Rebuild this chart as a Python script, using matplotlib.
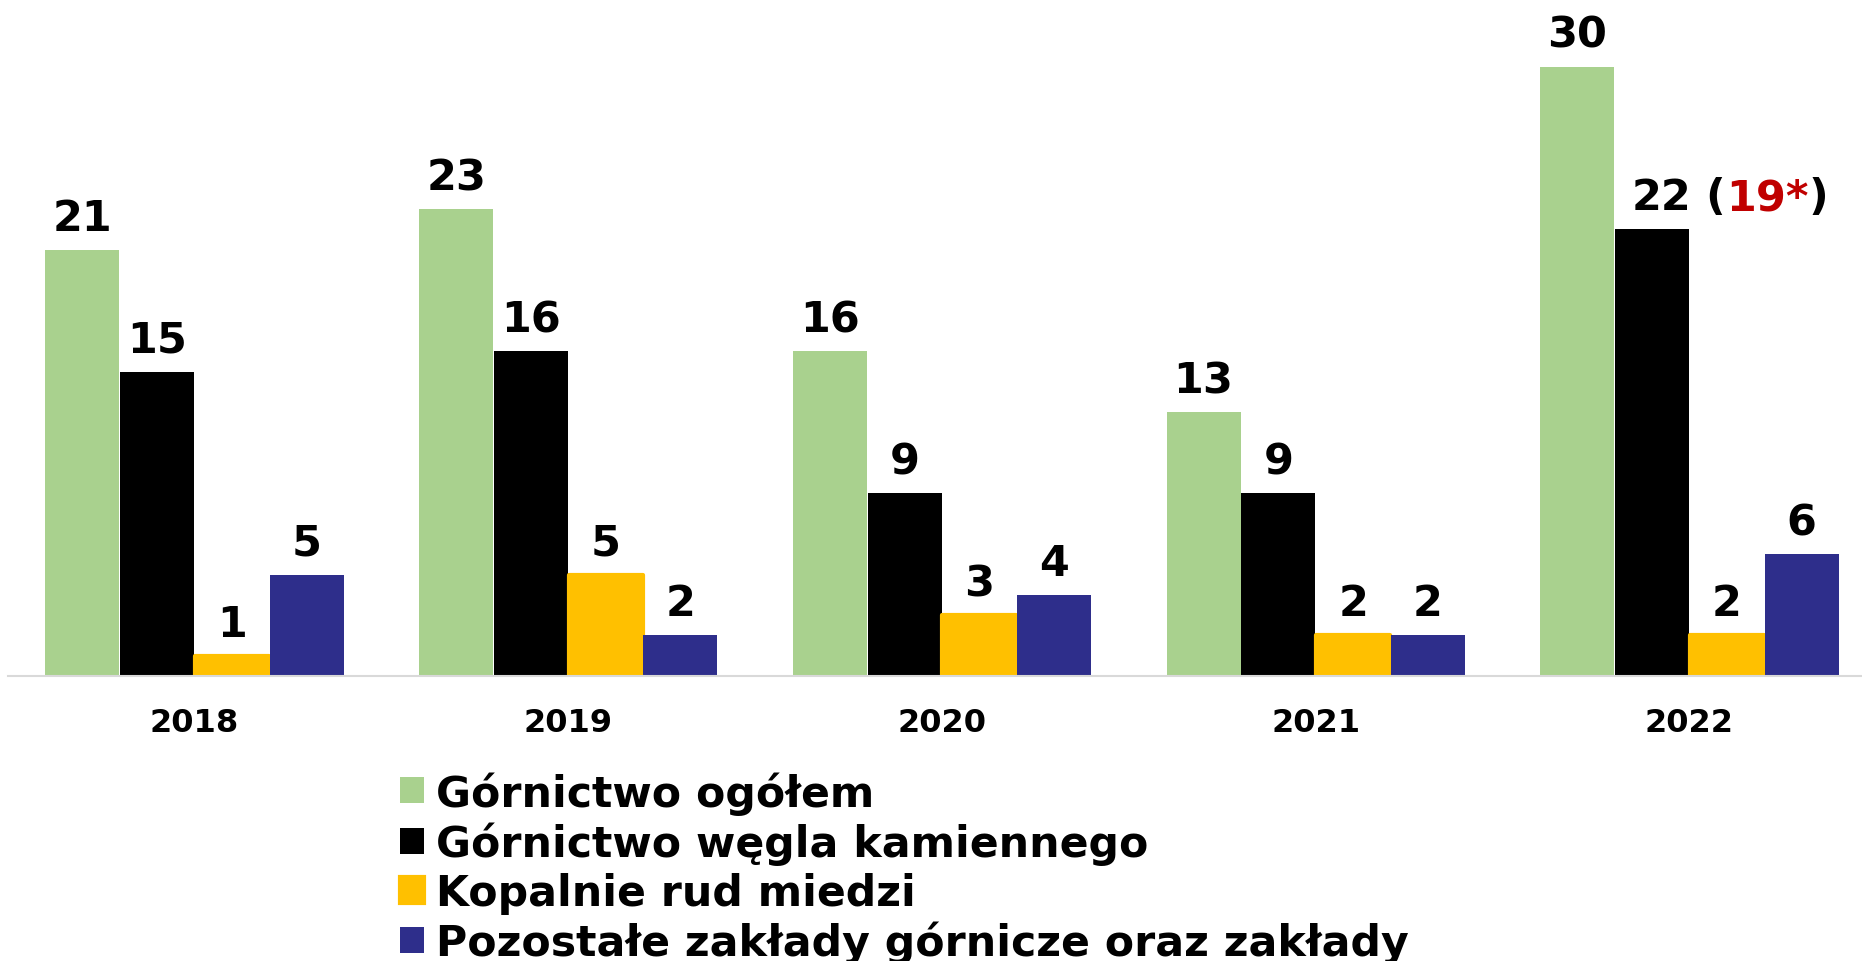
import matplotlib
matplotlib.use('Agg')
import matplotlib.pyplot as plt
import numpy as np

years = ['2018', '2019', '2020', '2021', '2022']
gornictwo_ogolem = [21, 23, 16, 13, 30]
wegiel_kamienny = [15, 16, 9, 9, 22]
rudy_miedzi = [1, 5, 3, 2, 2]
pozostale = [5, 2, 4, 2, 6]
series_names = ['Górnictwo ogółem', 'Górnictwo węgla kamiennego',
                'Kopalnie rud miedzi', 'Pozostałe zakłady górnicze oraz zakłady']
colors = ['#A9D18E', '#000000', '#FFC000', '#2E2E8B']
note_2022 = '19*'

plt.rcParams['font.family'] = 'DejaVu Sans'
plt.rcParams['font.weight'] = 'bold'

W, H = 1862, 962
fig = plt.figure(figsize=(W / 100, H / 100), dpi=100)
base = 677
ax = fig.add_axes([0, 1 - base / H, 1, base / H])
ax.set_ylim(0, base / 20.3)
center0, step = 194.5, 373.75
ax.set_xlim(-center0 / step, (W - center0) / step)

x = np.arange(len(years))
offsets = [-0.3, -0.1, 0.1, 0.3]
width = 0.198
all_series = [gornictwo_ogolem, wegiel_kamienny, rudy_miedzi, pozostale]
lab_size = 31

handles = []
for i, (vals, off, col, name) in enumerate(zip(all_series, offsets, colors, series_names)):
    if i == 2:
        bars = ax.bar(x + off, vals, width, color=col, edgecolor=col, linewidth=3,
                      joinstyle='round', label=name, zorder=3)
    else:
        bars = ax.bar(x + off, vals, width, color=col, linewidth=0, label=name, zorder=3)
    handles.append(bars)
    for xi, v in zip(x, vals):
        if i == 1 and xi == 4:
            t = ax.annotate(str(v), xy=(xi + off, v), xytext=(6.5, 14.4),
                            textcoords='offset points', ha='center', va='baseline',
                            fontsize=lab_size, fontweight='bold')
            t2 = ax.annotate(' (', xy=(1, 0), xycoords=t, ha='left', va='bottom',
                             fontsize=lab_size, fontweight='bold')
            t3 = ax.annotate(note_2022, xy=(1, 0), xycoords=t2, ha='left', va='bottom',
                             fontsize=lab_size, fontweight='bold', color='#C00000')
            ax.annotate(')', xy=(1, 0), xycoords=t3, ha='left', va='bottom',
                        fontsize=lab_size, fontweight='bold')
        else:
            ax.annotate(str(v), xy=(xi + off, v), xytext=(0, 14.4),
                        textcoords='offset points', ha='center', va='baseline',
                        fontsize=lab_size, fontweight='bold')

ax.set_xticks(x, years)
ax.tick_params(axis='x', length=0, pad=22, labelsize=23)
ax.set_yticks([])
for s in ['top', 'right', 'left']:
    ax.spines[s].set_visible(False)
ax.spines['bottom'].set_color('#D9D9D9')
ax.spines['bottom'].set_linewidth(1.5)
ax.spines['bottom'].set_bounds(-0.5, (W - center0) / step)
ax.spines['bottom'].set_zorder(4)

fig.legend(handles, series_names, loc='upper left',
           bbox_to_anchor=(400 / W, 1 - 772 / H), frameon=False,
           fontsize=30.7, handlelength=0.56, handleheight=0.56, handletextpad=0.28,
           labelspacing=0.16, borderpad=0, borderaxespad=0)

fig.savefig('out.png', dpi=100)
